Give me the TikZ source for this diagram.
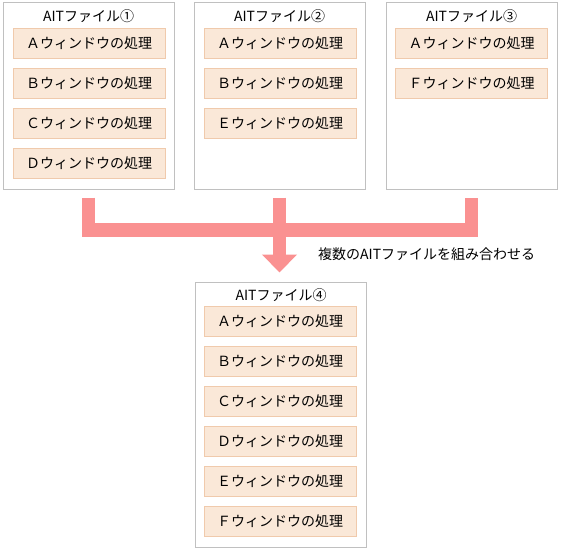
\documentclass[tikz,border=0pt]{standalone}
\usepackage{fontspec}
\setmainfont{Noto Sans CJK JP}
\usepackage{tikz}
\usetikzlibrary{positioning,arrows.meta}
\definecolor{filegray}{RGB}{192,192,192}
\definecolor{procfill}{RGB}{250,232,216}
\definecolor{procline}{RGB}{240,202,172}
\definecolor{bandpink}{RGB}{250,145,145}

\begin{document}
\begin{tikzpicture}[x=1pt, y=-1pt]
\tikzstyle{file}=[draw=filegray, line width=1pt, minimum width=171pt,
                        minimum height=186pt, inner sep=0pt]
\tikzstyle{ttl}=[inner sep=0pt, font=\fontsize{14}{16}\selectfont]
\tikzstyle{proc}=[draw=procline, fill=procfill, minimum width=152pt,
                        minimum height=30pt, inner sep=0pt, font=\fontsize{14}{16}\selectfont]
\tikzstyle{band}=[draw=bandpink, line width=13.5pt, line join=miter]
\useasboundingbox (0,0) rectangle (561,551);
% the four files
\node[file] (F1) at (88.5,96) {};
\node[file] (F2) at (279.5,96) {};
\node[file] (F3) at (471.5,96) {};
\node[file, minimum height=265pt] (F4) at (281,414.5) {};
\node[ttl] (T1) at (88.5,16) {AITファイル①};
\node[ttl] (T2) at (279.5,16) {AITファイル②};
\node[ttl] (T3) at (471.5,16) {AITファイル③};
\node[ttl] (T4) at (281,295) {AITファイル④};
% window processing
\foreach \k [count=\i] in {Ａ,Ｂ,Ｃ,Ｄ}{\node[proc] (p1\i) at (89,{3+40*\i}) {\k ウィンドウの処理};}
\foreach \k [count=\i] in {Ａ,Ｂ,Ｅ}{\node[proc] (p2\i) at (280,{3+40*\i}) {\k ウィンドウの処理};}
\foreach \k [count=\i] in {Ａ,Ｆ}{\node[proc] (p3\i) at (471.5,{3+40*\i}) {\k ウィンドウの処理};}
\foreach \k [count=\i] in {Ａ,Ｂ,Ｃ,Ｄ,Ｅ,Ｆ}{\node[proc] (p4\i) at (280,{281+40*\i}) {\k ウィンドウの処理};}
% combining arrow
\coordinate[below=8pt of F1] (s1);
\coordinate[below=8pt of F2] (s2);
\coordinate[below=8pt of F3] (s3);
\draw[band] (s1) |- (s3 |- 0,230) -- (s3);
\draw[band, -{Triangle[width=34pt,length=18pt]}, shorten >=9pt] (s2) -- (s2 |- F4.north);
\node[ttl, anchor=west] (lbl) at (318,254) {複数のAITファイルを組み合わせる};
\end{tikzpicture}
\end{document}
